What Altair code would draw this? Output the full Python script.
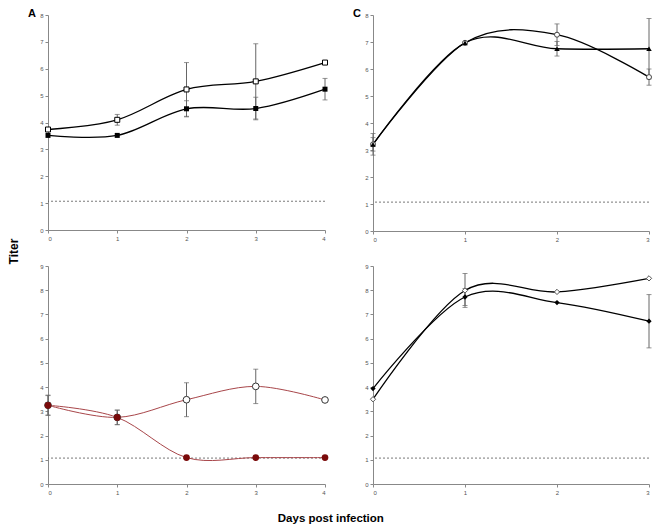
import altair as alt
import pandas as pd

# ---------------- data ----------------
days_A = [0, 1, 2, 3, 4]
A_open = [3.74, 4.10, 5.23, 5.53, 6.23]
A_open_err = [0, 0.20, 1.00, 1.40, 0]
A_filled = [3.52, 3.52, 4.51, 4.52, 5.24]
A_filled_err = [0, 0, 0.30, 0.42, 0.40]

days_C = [0, 1, 2, 3]
C_open = [3.21, 6.97, 7.27, 5.70]
C_open_err = [0.25, 0, 0.40, 0.30]
C_filled = [3.21, 6.97, 6.75, 6.75]
C_filled_err = [0.40, 0, 0.27, 1.12]

days_B = [0, 1, 2, 3, 4]
B_open = [3.25, 2.75, 3.48, 4.03, 3.47]
B_open_err = [0.42, 0.30, 0.70, 0.71, 0]
B_filled = [3.25, 2.75, 1.09, 1.09, 1.09]
B_filled_err = [0.40, 0.30, 0, 0, 0]

days_D = [0, 1, 2, 3]
D_open = [3.50, 7.99, 7.93, 8.49]
D_open_err = [0, 0.70, 0, 0]
D_filled = [3.94, 7.72, 7.49, 6.72]
D_filled_err = [0, 0.35, 0, 1.10]

detection_limit = [1.07]

FONT = "Liberation Sans"


def make_df(days, open_v, open_e, filled_v, filled_e):
    rows = []
    for d, v, e in zip(days, open_v, open_e):
        rows.append({"day": d, "value": v, "err": e, "series": "open",
                     "lo": v - e, "hi": v + e})
    for d, v, e in zip(days, filled_v, filled_e):
        rows.append({"day": d, "value": v, "err": e, "series": "filled",
                     "lo": v - e, "hi": v + e})
    return pd.DataFrame(rows)


def panel(df, xmax, ymax, width, height, line_color, line_width,
          open_shape, open_size, filled_shape, filled_size,
          filled_color, open_stroke, title=None):
    xs = alt.Scale(domain=[0, xmax], nice=False)
    ys = alt.Scale(domain=[0, ymax], nice=False)
    xax = alt.Axis(values=list(range(xmax + 1)), format="d", title=None)
    yax = alt.Axis(values=list(range(ymax + 1)), format="d", title=None)
    base = alt.Chart(df)
    x = alt.X("day:Q", scale=xs, axis=xax)
    y = alt.Y("value:Q", scale=ys, axis=yax)

    rule = alt.Chart(pd.DataFrame({"lod": detection_limit})).mark_rule(
        strokeDash=[2, 2], color="#555555", strokeWidth=0.8
    ).encode(y=alt.Y("lod:Q", scale=ys, axis=yax))

    err = base.transform_filter("datum.err > 0").mark_errorbar(
        ticks={"size": 5, "color": "#666666", "strokeWidth": 1},
        rule={"color": "#666666", "strokeWidth": 1},
    ).encode(
        x=x,
        y=alt.Y("lo:Q", scale=ys, axis=yax),
        y2="hi:Q",
    )

    lines = base.mark_line(
        interpolate="cardinal", color=line_color, strokeWidth=line_width
    ).encode(x=x, y=y, detail="series:N")

    pts_open = base.transform_filter("datum.series == 'open'").mark_point(
        shape=open_shape, size=open_size, filled=True, fill="white",
        stroke=open_stroke, strokeWidth=1, opacity=1
    ).encode(x=x, y=y)

    pts_filled = base.transform_filter("datum.series == 'filled'").mark_point(
        shape=filled_shape, size=filled_size, filled=True, color=filled_color,
        opacity=1
    ).encode(x=x, y=y)

    props = dict(width=width, height=height)
    if title is not None:
        props["title"] = alt.TitleParams(
            title, anchor="start", frame="group", dx=-20, fontSize=11,
            fontWeight="bold", font=FONT, offset=-7, color="#000000"
        )
    return alt.layer(rule, err, lines, pts_open, pts_filled).properties(**props)


dfA = make_df(days_A, A_open, A_open_err, A_filled, A_filled_err)
dfC = make_df(days_C, C_open, C_open_err, C_filled, C_filled_err)
dfB = make_df(days_B, B_open, B_open_err, B_filled, B_filled_err)
dfD = make_df(days_D, D_open, D_open_err, D_filled, D_filled_err)

pA = panel(dfA, 4, 8, 277, 215, "#000000", 1.3,
           "square", 25, "square", 25, "#000000", "#000000", "A")
pC = panel(dfC, 3, 8, 276, 216, "#000000", 1.3,
           "circle", 25, "triangle-up", 30, "#000000", "#444444", "C")
pB = panel(dfB, 4, 9, 277, 218, "#A8464A", 1.0,
           "circle", 45, "circle", 45, "#7A0A0A", "#333333")
pD = panel(dfD, 3, 9, 276, 218, "#000000", 1.3,
           "diamond", 28, "diamond", 28, "#000000", "#555555")

grid = alt.concat(
    pA, pC, pB, pD, columns=2, bounds="flush",
    spacing={"row": 35, "column": 48},
    title=alt.TitleParams("Titer", orient="left", anchor="middle",
                          fontSize=12, fontWeight="bold", font=FONT, offset=7)
)

chart = alt.vconcat(
    grid,
    title=alt.TitleParams("Days post infection", orient="bottom", anchor="middle",
                          fontSize=11.5, fontWeight="bold", font=FONT, offset=18),
).properties(padding=0).configure_view(stroke=None).configure_axis(
    grid=False,
    labelFontSize=6,
    labelFont=FONT,
    labelColor="#555555",
    domainColor="#888888",
    tickColor="#888888",
    tickSize=3,
    labelPadding=2,
)

chart.save("out.html", embed_options={"renderer": "svg", "actions": False})
